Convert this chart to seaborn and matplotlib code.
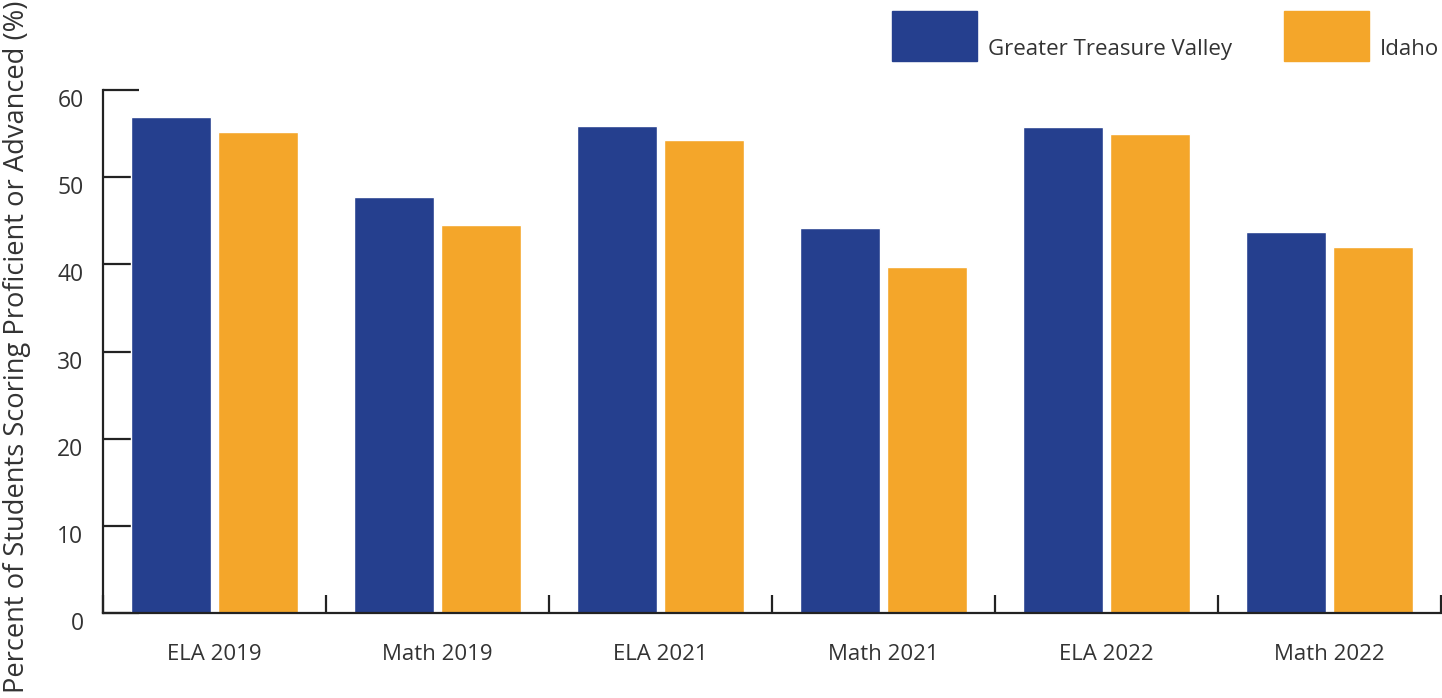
import pandas as pd
import matplotlib.pyplot as plt
import matplotlib.transforms as mtransforms
import seaborn as sns
from matplotlib.patches import Rectangle

# data
categories = ['ELA 2019', 'Math 2019', 'ELA 2021', 'Math 2021', 'ELA 2022', 'Math 2022']
gtv = [56.9, 47.7, 55.9, 44.2, 55.8, 43.7]
idaho = [55.2, 44.5, 54.3, 39.7, 54.9, 42.0]
series = ['Greater Treasure Valley', 'Idaho']
colors = ['#253f8e', '#f4a62a']

df = pd.DataFrame({
    'Category': categories * 2,
    'Region': [series[0]] * len(categories) + [series[1]] * len(categories),
    'Value': gtv + idaho,
})

sns.set_style('white')
plt.rcParams['font.family'] = ['Open Sans', 'DejaVu Sans']
txt = '#333333'

fig = plt.figure(figsize=(14.42, 6.98), dpi=100)
ax = fig.add_axes([0.0714, 0.1218, 0.9279, 0.7492])

sns.barplot(data=df, x='Category', y='Value', hue='Region', order=categories,
            hue_order=series, palette=colors, width=0.78, gap=0.07,
            saturation=1, legend=False, ax=ax)

ax.set_xlim(-0.5, 5.5)
ax.set_ylim(0, 60)
ax.set_yticks(range(0, 61, 10))
ax.set_xlabel('')
ax.set_ylabel('Percent of Students Scoring Proficient or Advanced (%)',
              fontsize=19.6, color=txt)
ax.yaxis.set_label_coords(-0.054, 0.509)

sns.despine(ax=ax)
for s in ['left', 'bottom']:
    ax.spines[s].set_linewidth(1.6)
    ax.spines[s].set_color('#222222')

ax.tick_params(axis='y', left=True, direction='in', length=26, width=1.6, color='#222222',
               labelsize=16.5, labelcolor=txt, pad=14)
ax.tick_params(axis='x', which='major', bottom=True, length=0, labelsize=16,
               labelcolor=txt, pad=22)
ax.set_xticks([i - 0.5 for i in range(7)], minor=True)
ax.tick_params(axis='x', which='minor', bottom=True, direction='in', length=13,
               width=1.6, color='#222222')

# y labels sit a little below their ticks in the reference
shift = mtransforms.ScaledTranslation(0, -8 / 100, fig.dpi_scale_trans)
for lab in ax.get_yticklabels():
    lab.set_transform(lab.get_transform() + shift)

# legend drawn as boxes with text beside them
leg_x = [892, 1284]
for lx, name, c in zip(leg_x, series, colors):
    fig.patches.append(Rectangle((lx / 1442, 1 - 61 / 698), 85 / 1442, 50 / 698,
                                 transform=fig.transFigure, color=c))
    fig.text((lx + 96) / 1442, 1 - 55 / 698, name, fontsize=16, color=txt,
             ha='left', va='baseline')

fig.savefig('out.png', dpi=100)
